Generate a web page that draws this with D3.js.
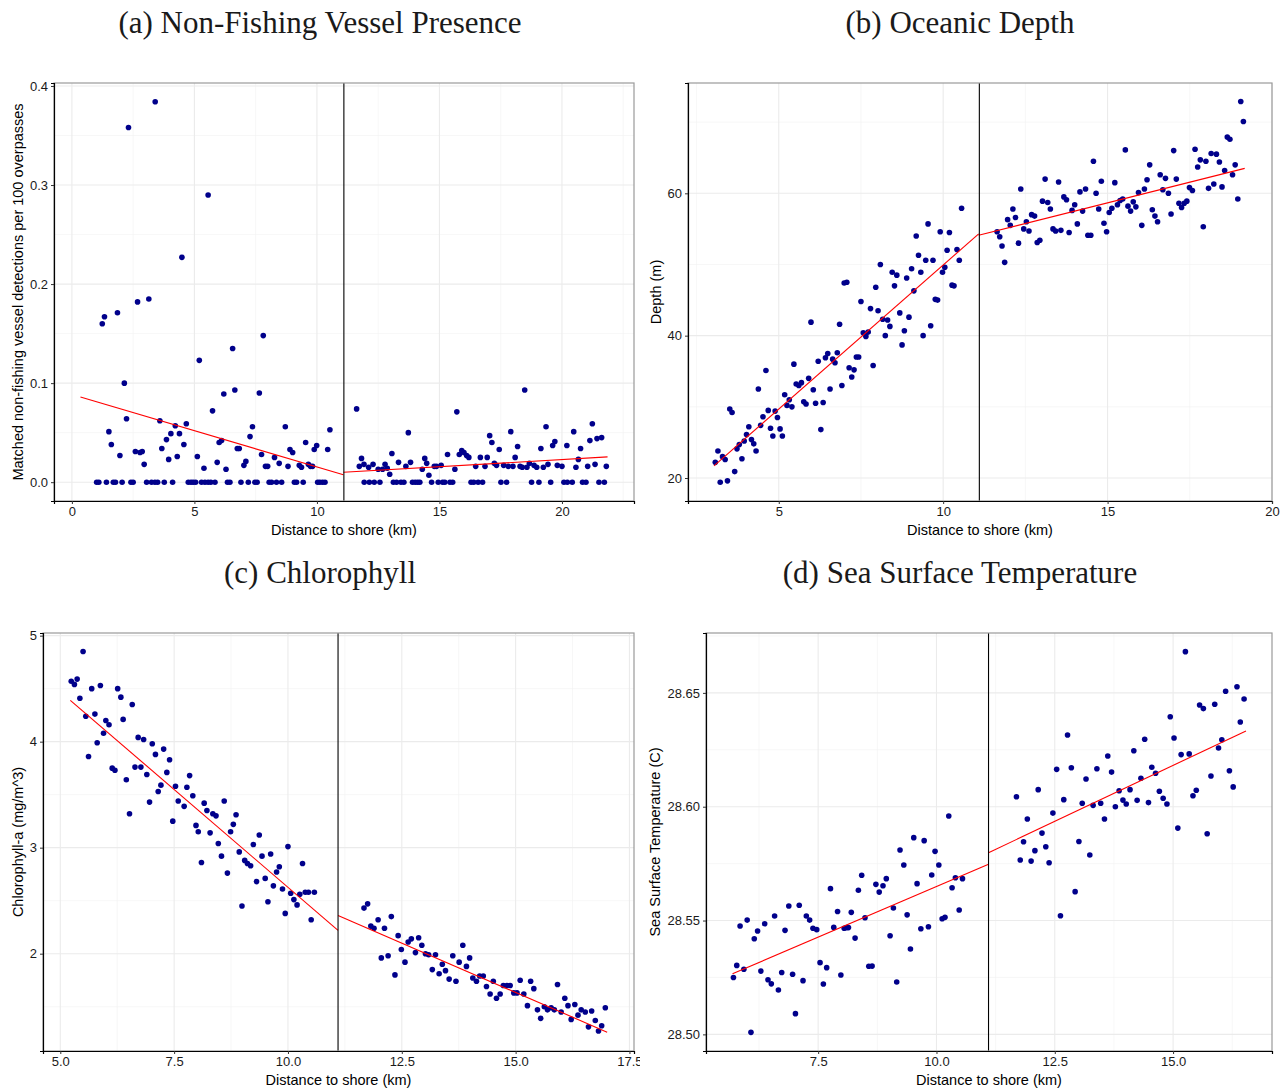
<!DOCTYPE html>
<html>
<head>
<meta charset="utf-8">
<script src="https://cdn.jsdelivr.net/npm/d3@7"></script>
<style>
  body { margin: 0; background: #fff; }
  svg text { font-family: "Liberation Sans", Arial, sans-serif; }
</style>
</head>
<body>
<div id="chart"></div>
<script>
// cutoff distance (km) shown as the vertical line in every panel
var cutoff = 11.1;

// (a) non-fishing vessel presence
var aZeroDist = [1.01,1.10,1.41,1.69,1.78,2.05,2.41,2.50,3.05,3.25,3.39,3.50,3.77,4.11,4.75,4.86,4.95,5.05,5.29,5.43,5.56,5.67,5.84,6.35,6.45,6.90,7.20,7.47,7.56,8.05,8.15,8.35,8.56,9.08,9.17,9.44,10.03,10.12,10.23,10.33,
  11.93,12.14,12.34,12.57,13.12,13.25,13.43,13.55,13.90,14.01,14.11,14.20,14.68,14.95,15.13,15.22,15.43,15.54,16.29,16.40,16.58,16.76,17.51,17.74,18.76,19.06,19.54,20.08,20.22,20.42,20.84,20.98,21.51,21.73];
var aDist = [1.24,1.33,1.51,1.61,1.86,1.96,2.14,2.23,2.31,2.59,2.68,2.78,2.87,2.95,3.14,3.40,3.59,3.67,3.86,3.95,4.04,4.22,4.30,4.39,4.49,4.57,4.67,5.12,5.20,5.39,5.56,5.74,5.93,6.01,6.11,6.20,6.29,6.56,6.65,6.75,6.83,7.02,7.10,7.27,7.37,7.65,7.74,7.81,7.90,7.99,8.27,8.46,8.71,8.82,8.90,9.01,9.28,9.37,9.54,9.65,9.74,9.82,9.89,9.99,10.44,10.53,
  11.62,11.73,11.82,11.92,12.11,12.29,12.50,12.68,12.78,12.87,12.97,13.06,13.33,13.63,13.73,13.82,14.30,14.40,14.48,14.57,14.79,14.88,15.07,15.33,15.63,15.71,15.81,15.91,16.00,16.11,16.20,16.48,16.67,16.86,16.95,17.05,17.14,17.24,17.33,17.44,17.62,17.81,17.91,18.00,18.09,18.19,18.29,18.38,18.48,18.57,18.67,18.86,18.97,19.14,19.24,19.35,19.43,19.62,19.71,19.81,20.00,20.20,20.48,20.57,20.67,20.76,21.05,21.14,21.24,21.35,21.43,21.62,21.81];
var aVal = [.160,.167,.051,.038,.171,.027,.100,.064,.358,.031,.182,.030,.031,.018,.185,.384,.062,.034,.043,.023,.049,.057,.026,.049,.227,.038,.059,.026,.123,.014,.290,.072,.020,.040,.042,.089,.013,.135,.093,.034,.034,.017,.021,.046,.056,.090,.028,.148,.016,.016,.025,.019,.056,.016,.033,.030,.017,.015,.040,.018,.016,.016,.033,.037,.033,.053,
  .074,.016,.024,.018,.015,.018,.013,.013,.018,.014,.008,.029,.020,.016,.050,.020,.013,.024,.019,.007,.016,.016,.017,.028,.013,.071,.028,.032,.030,.027,.025,.016,.025,.016,.025,.047,.040,.019,.017,.033,.017,.016,.051,.016,.025,.036,.016,.015,.093,.015,.019,.017,.015,.034,.015,.056,.018,.037,.041,.017,.016,.037,.051,.015,.023,.034,.016,.042,.059,.018,.044,.045,.016];
var aFitNearX = [0.35, 11.08], aFitNearY = [0.086, 0.0075];
var aFitFarX = [11.08, 21.86], aFitFarY = [0.010, 0.0255];

// (b) oceanic depth
var bDist = [3.07,3.15,3.22,3.29,3.37,3.44,3.51,3.58,3.66,3.73,3.80,3.88,3.95,4.02,4.09,4.17,4.24,4.31,4.38,4.45,4.52,4.61,4.68,4.75,4.82,4.89,4.96,5.04,5.11,5.18,5.25,5.32,5.40,5.46,5.53,5.61,5.69,5.76,5.83,5.91,5.98,6.05,6.12,6.20,6.28,6.35,6.42,6.49,6.56,6.64,6.71,6.78,6.85,6.92,6.99,7.07,7.14,7.22,7.29,7.36,7.43,7.50,7.57,7.65,7.72,7.79,7.87,7.95,8.02,8.09,8.16,8.24,8.31,8.38,8.45,8.52,8.59,8.68,8.75,8.82,8.89,8.96,9.04,9.11,9.18,9.25,9.32,9.39,9.47,9.54,9.62,9.69,9.76,9.83,9.91,9.98,10.05,10.12,10.19,10.27,10.33,10.42,10.49,10.56,
  11.64,11.72,11.79,11.87,11.96,12.04,12.12,12.20,12.29,12.36,12.45,12.53,12.61,12.69,12.78,12.86,12.94,13.02,13.10,13.18,13.26,13.34,13.42,13.51,13.58,13.67,13.75,13.83,13.92,14.00,14.08,14.16,14.24,14.33,14.40,14.49,14.57,14.65,14.73,14.81,14.89,14.97,15.05,15.13,15.22,15.30,15.38,15.46,15.54,15.62,15.70,15.78,15.86,15.94,16.04,16.12,16.20,16.28,16.36,16.44,16.52,16.60,16.68,16.76,16.85,16.93,17.01,17.09,17.17,17.25,17.33,17.41,17.49,17.58,17.66,17.74,17.82,17.91,17.99,18.07,18.15,18.23,18.31,18.40,18.48,18.56,18.64,18.72,18.80,18.88,18.96,19.05,19.13];
var bDepth = [22.2,23.8,19.4,23.0,22.6,19.6,29.7,29.2,20.9,24.1,24.7,22.7,25.2,26.1,27.2,25.4,24.8,23.8,32.5,27.4,28.6,35.1,29.5,27.0,25.9,29.4,28.5,26.9,25.9,31.7,30.2,31.0,30.0,36.0,33.2,33.0,33.4,30.7,30.4,34.0,41.9,32.4,30.5,36.4,26.8,30.6,36.9,37.5,32.5,36.7,36.2,37.6,41.6,33.0,47.4,47.5,35.5,34.2,35.2,37.0,37.0,44.8,40.4,39.9,40.5,43.8,35.8,46.8,43.5,50.0,42.3,40.0,42.2,41.3,48.9,47.0,48.5,43.2,38.7,40.7,48.1,42.6,49.4,46.3,54.0,51.3,48.9,40.0,50.6,55.7,41.4,50.6,45.1,45.0,54.6,48.9,49.6,52.0,54.5,47.1,47.0,52.1,50.6,57.9,
  54.6,53.9,52.6,50.3,56.3,55.5,57.8,56.6,53.0,60.6,55.0,56.0,54.7,57.0,56.8,53.1,53.4,58.9,62.0,58.7,57.8,55.0,54.7,61.6,54.8,59.5,59.1,54.5,57.6,58.4,55.7,60.2,57.5,60.6,54.1,54.1,64.5,60.0,57.8,61.7,55.8,54.6,57.3,57.9,61.5,58.4,59.0,59.2,66.1,58.2,57.5,58.8,58.1,60.1,55.5,60.6,61.9,64.0,57.7,56.8,56.0,62.6,60.5,62.1,60.0,57.1,66.0,62.0,58.6,58.0,58.6,58.9,60.8,60.4,66.2,63.7,64.7,55.3,64.5,60.7,65.6,61.3,65.5,64.4,60.9,63.2,67.9,67.6,62.6,64.0,59.2,72.9,70.1];
var bFitNearX = [3.03, 11.08], bFitNearY = [21.7, 54.3];
var bFitFarX = [11.08, 19.17], bFitFarY = [54.1, 63.5];

// (c) chlorophyll
var cDist = [5.24,5.31,5.37,5.43,5.50,5.56,5.62,5.69,5.76,5.81,5.88,5.95,6.00,6.07,6.14,6.20,6.26,6.33,6.38,6.45,6.52,6.58,6.64,6.71,6.77,6.83,6.90,6.96,7.02,7.09,7.15,7.21,7.27,7.34,7.40,7.47,7.53,7.59,7.72,7.78,7.84,7.91,7.98,8.03,8.10,8.16,8.22,8.29,8.35,8.42,8.47,8.54,8.60,8.67,8.74,8.80,8.86,8.93,8.99,9.05,9.11,9.18,9.24,9.31,9.37,9.43,9.50,9.56,9.62,9.68,9.75,9.81,9.88,9.94,10.00,10.06,10.13,10.20,10.26,10.32,10.38,10.45,10.51,10.58,
  11.67,11.75,11.82,11.89,11.98,12.05,12.12,12.20,12.27,12.35,12.42,12.49,12.57,12.64,12.71,12.80,12.87,12.94,13.02,13.09,13.17,13.24,13.32,13.39,13.46,13.54,13.62,13.69,13.76,13.84,13.92,13.99,14.06,14.14,14.21,14.29,14.36,14.44,14.51,14.58,14.66,14.73,14.81,14.88,14.96,15.03,15.10,15.18,15.26,15.33,15.40,15.48,15.55,15.63,15.70,15.78,15.85,15.92,16.00,16.08,16.15,16.22,16.30,16.37,16.44,16.53,16.60,16.67,16.75,16.82,16.89,16.97];
var cChl = [4.57,4.54,4.59,4.41,4.85,4.24,3.86,4.50,4.26,3.99,4.53,4.08,4.20,4.16,3.75,3.73,4.50,4.42,4.21,3.64,3.32,4.35,3.76,4.04,3.76,4.02,3.69,3.43,3.98,3.88,3.53,3.59,3.93,3.71,3.83,3.25,3.58,3.44,3.39,3.57,3.68,3.49,3.21,3.15,2.86,3.42,3.35,3.14,3.32,3.30,3.04,2.92,3.44,2.76,3.15,3.22,3.31,2.96,2.45,2.88,2.85,2.83,3.03,2.68,3.12,2.92,2.71,2.49,2.94,2.64,2.77,2.82,2.61,2.38,3.01,2.57,2.51,2.46,2.56,2.85,2.58,2.58,2.32,2.58,
  2.43,2.47,2.26,2.24,2.32,1.96,2.24,1.98,2.35,1.80,2.17,2.04,1.92,2.11,2.14,2.01,2.15,2.08,2.00,1.99,1.85,1.99,1.81,1.90,1.84,1.76,1.98,1.74,1.92,2.08,1.88,1.96,1.77,1.74,1.79,1.79,1.69,1.62,1.74,1.58,1.62,1.70,1.70,1.70,1.63,1.63,1.75,1.62,1.51,1.74,1.67,1.47,1.39,1.50,1.47,1.49,1.47,1.71,1.45,1.58,1.51,1.38,1.52,1.42,1.47,1.45,1.31,1.46,1.37,1.27,1.32,1.49];
var cFitNearX = [5.22, 11.1], cFitNearY = [4.39, 2.22];
var cFitFarX = [11.1, 17.01], cFitFarY = [2.36, 1.26];

// (d) sea surface temperature
var dDist = [5.71,5.78,5.85,5.93,6.00,6.08,6.15,6.22,6.29,6.37,6.44,6.51,6.58,6.66,6.73,6.80,6.88,6.96,7.02,7.10,7.18,7.25,7.32,7.39,7.47,7.54,7.61,7.68,7.76,7.83,7.91,7.98,8.05,8.10,8.14,8.20,8.28,8.35,8.42,8.49,8.57,8.64,8.72,8.79,8.87,8.94,9.02,9.09,9.16,9.23,9.31,9.38,9.45,9.52,9.59,9.67,9.74,9.83,9.90,9.97,10.05,10.12,10.18,10.26,10.33,10.40,10.48,10.55,
  11.69,11.77,11.84,11.92,12.00,12.08,12.15,12.23,12.31,12.38,12.46,12.54,12.62,12.69,12.77,12.85,12.93,13.01,13.08,13.16,13.24,13.31,13.39,13.47,13.55,13.62,13.70,13.78,13.86,13.94,14.01,14.09,14.17,14.24,14.32,14.40,14.48,14.55,14.63,14.71,14.79,14.87,14.94,15.02,15.10,15.17,15.26,15.34,15.42,15.49,15.56,15.64,15.72,15.80,15.88,15.96,16.03,16.11,16.19,16.27,16.35,16.42,16.50];
var dSst = [28.5250,28.5303,28.5476,28.5286,28.5502,28.5009,28.5420,28.5454,28.5278,28.5486,28.5240,28.5222,28.5520,28.5195,28.5272,28.5457,28.5564,28.5264,28.5091,28.5567,28.5236,28.5520,28.5502,28.5466,28.5460,28.5315,28.5221,28.5293,28.5640,28.5470,28.5540,28.5261,28.5466,28.5469,28.5469,28.5536,28.5423,28.5633,28.5699,28.5512,28.5299,28.5300,28.5659,28.5625,28.5653,28.5684,28.5433,28.5555,28.5230,28.5810,28.5744,28.5525,28.5375,28.5864,28.5662,28.5464,28.5851,28.5473,28.5700,28.5804,28.5744,28.5508,28.5514,28.5959,28.5644,28.5688,28.5546,28.5684,
  28.6044,28.5766,28.5846,28.5946,28.5761,28.5807,28.6075,28.5884,28.5824,28.5754,28.5972,28.6164,28.5521,28.6031,28.6315,28.6171,28.5627,28.5847,28.6015,28.6122,28.5788,28.6006,28.6167,28.6015,28.5946,28.6223,28.6152,28.6000,28.6070,28.6029,28.6012,28.6075,28.6246,28.6028,28.6125,28.6296,28.6018,28.6173,28.6147,28.6068,28.6037,28.6012,28.6395,28.6302,28.5906,28.6229,28.6681,28.6232,28.6048,28.6072,28.6447,28.6431,28.5881,28.6135,28.6450,28.6258,28.6294,28.6507,28.6158,28.6087,28.6527,28.6372,28.6473];
var dFitNearX = [5.69, 11.1], dFitNearY = [28.5266, 28.5747];
var dFitFarX = [11.1, 16.54], dFitFarY = [28.5798, 28.6333];

var svg = d3.select('#chart')
    .append('svg')
    .attr('width', 1280)
    .attr('height', 1091)

function zip(xs, ys) {
    return xs.map(function (d, i) { return [d, ys[i]]; });
}

function drawPanel(p) {
    var clipId = 'clip-' + p.id;
    svg.append('clipPath').attr('id', clipId)
        .append('rect')
        .attr('x', p.cell[0]).attr('y', p.cell[1])
        .attr('width', p.cell[2]).attr('height', p.cell[3]);
    var g = svg.append('g').attr('clip-path', 'url(#' + clipId + ')');

    var x = d3.scaleLinear().domain(p.xDom).range([p.l, p.r]);
    var y = d3.scaleLinear().domain(p.yDom).range([p.b, p.t]);

    // minor then major grid
    g.selectAll('.xminor').data(p.xMinor).enter().append('line')
        .attr('x1', x).attr('x2', x).attr('y1', p.t).attr('y2', p.b)
        .attr('stroke', '#f2f2f2').attr('stroke-width', 0.6);
    g.selectAll('.yminor').data(p.yMinor).enter().append('line')
        .attr('y1', y).attr('y2', y).attr('x1', p.l).attr('x2', p.r)
        .attr('stroke', '#f2f2f2').attr('stroke-width', 0.6);
    g.selectAll('.xmajor').data(p.xTicks.filter(function (d) { return d >= p.xDom[0] && d <= p.xDom[1]; }))
        .enter().append('line')
        .attr('x1', x).attr('x2', x).attr('y1', p.t).attr('y2', p.b)
        .attr('stroke', '#ebebeb').attr('stroke-width', 1.1);
    g.selectAll('.ymajor').data(p.yTicks).enter().append('line')
        .attr('y1', y).attr('y2', y).attr('x1', p.l).attr('x2', p.r)
        .attr('stroke', '#ebebeb').attr('stroke-width', 1.1);

    // points
    g.selectAll('.pt').data(p.points).enter().append('circle')
        .attr('cx', function (d) { return x(d[0]); })
        .attr('cy', function (d) { return y(d[1]); })
        .attr('r', 2.8)
        .attr('fill', '#00008b')

    // fitted segments
    var line = d3.line().x(function (d) { return x(d[0]); }).y(function (d) { return y(d[1]); });
    p.fits.forEach(function (f) {
        g.append('path').attr('d', line(f))
            .attr('fill', 'none').attr('stroke', '#ff0000').attr('stroke-width', 1.1);
    });

    // cutoff line
    g.append('line')
        .attr('x1', x(cutoff)).attr('x2', x(cutoff))
        .attr('y1', p.t).attr('y2', p.b)
        .attr('stroke', '#000').attr('stroke-width', 1.1);

    // panel border
    g.append('rect')
        .attr('x', p.l).attr('y', p.t)
        .attr('width', p.r - p.l).attr('height', p.b - p.t)
        .attr('fill', 'none').attr('stroke', '#9a9a9a').attr('stroke-width', 1.2);

    // axes
    var xAxis = g.append('g').attr('transform', 'translate(0,' + p.b + ')')
        .call(d3.axisBottom(x).tickValues(p.xTicks).tickSize(3).tickPadding(3).tickFormat(p.xFmt));
    var yAxis = g.append('g').attr('transform', 'translate(' + p.l + ',0)')
        .call(d3.axisLeft(y).tickValues(p.yTicks).tickSize(3).tickPadding(3).tickFormat(p.yFmt));
    [xAxis, yAxis].forEach(function (a) {
        a.select('.domain').attr('stroke', '#000').attr('stroke-width', 1.2);
        a.selectAll('.tick line').attr('stroke', '#333');
        a.selectAll('.tick text').attr('fill', '#1a1a1a').attr('font-size', 13)
            .attr('font-family', '"Liberation Sans", Arial, sans-serif');
    });

    // titles and axis labels
    svg.append('text')
        .attr('x', p.cell[0] + p.cell[2] / 2).attr('y', p.cell[1] + 33)
        .attr('text-anchor', 'middle')
        .style('font-family', '"Liberation Serif", "Times New Roman", serif')
        .attr('font-size', 31).attr('fill', '#1a1a1a')
        .text(p.title);
    g.append('text')
        .attr('x', (p.l + p.r) / 2).attr('y', p.b + 34)
        .attr('text-anchor', 'middle').attr('font-size', 14.5).attr('fill', '#000')
        .text('Distance to shore (km)');
    g.append('text')
        .attr('transform', 'translate(' + p.yLabX + ',' + ((p.t + p.b) / 2) + ') rotate(-90)')
        .attr('text-anchor', 'middle').attr('font-size', 14.5).attr('fill', '#000')
        .text(p.yLabel);
}

drawPanel({
    id: 'a', cell: [0, 0, 640, 550], l: 54, r: 634, t: 83, b: 501,
    xDom: [-0.73, 22.94], yDom: [-0.019, 0.403],
    xTicks: [0, 5, 10, 15, 20], xMinor: [2.5, 7.5, 12.5, 17.5, 22.5],
    yTicks: [0, 0.1, 0.2, 0.3, 0.4], yMinor: [0.05, 0.15, 0.25, 0.35],
    xFmt: d3.format('d'), yFmt: d3.format('.1f'),
    points: aZeroDist.map(function (d) { return [d, 0]; }).concat(zip(aDist, aVal)),
    fits: [zip(aFitNearX, aFitNearY), zip(aFitFarX, aFitFarY)],
    title: '(a) Non-Fishing Vessel Presence',
    yLabel: 'Matched non-fishing vessel detections per 100 overpasses', yLabX: 23
});

drawPanel({
    id: 'b', cell: [640, 0, 640, 550], l: 688, r: 1272, t: 83, b: 501,
    xDom: [2.24, 20.0], yDom: [16.77, 75.5],
    xTicks: [5, 10, 15, 20], xMinor: [2.5, 7.5, 12.5, 17.5],
    yTicks: [20, 40, 60], yMinor: [30, 50, 70],
    xFmt: d3.format('d'), yFmt: d3.format('d'),
    points: zip(bDist, bDepth),
    fits: [zip(bFitNearX, bFitNearY), zip(bFitFarX, bFitFarY)],
    title: '(b) Oceanic Depth',
    yLabel: 'Depth (m)', yLabX: 661
});

drawPanel({
    id: 'c', cell: [0, 550, 640, 541], l: 43, r: 634, t: 633, b: 1051,
    xDom: [4.62, 17.6], yDom: [1.082, 5.025],
    xTicks: [5, 7.5, 10, 12.5, 15, 17.5], xMinor: [6.25, 8.75, 11.25, 13.75, 16.25],
    yTicks: [2, 3, 4, 5], yMinor: [1.5, 2.5, 3.5, 4.5],
    xFmt: d3.format('.1f'), yFmt: d3.format('d'),
    points: zip(cDist, cChl),
    fits: [zip(cFitNearX, cFitNearY), zip(cFitFarX, cFitFarY)],
    title: '(c) Chlorophyll',
    yLabel: 'Chlorophyll-a (mg/m^3)', yLabX: 23
});

drawPanel({
    id: 'd', cell: [640, 550, 640, 541], l: 706, r: 1272, t: 633, b: 1051,
    xDom: [5.13, 17.09], yDom: [28.4927, 28.6763],
    xTicks: [7.5, 10, 12.5, 15], xMinor: [6.25, 8.75, 11.25, 13.75, 16.25],
    yTicks: [28.5, 28.55, 28.6, 28.65], yMinor: [28.525, 28.575, 28.625, 28.675],
    xFmt: d3.format('.1f'), yFmt: d3.format('.2f'),
    points: zip(dDist, dSst),
    fits: [zip(dFitNearX, dFitNearY), zip(dFitFarX, dFitFarY)],
    title: '(d) Sea Surface Temperature',
    yLabel: 'Sea Surface Temperature (C)', yLabX: 660
});
</script>
</body>
</html>
